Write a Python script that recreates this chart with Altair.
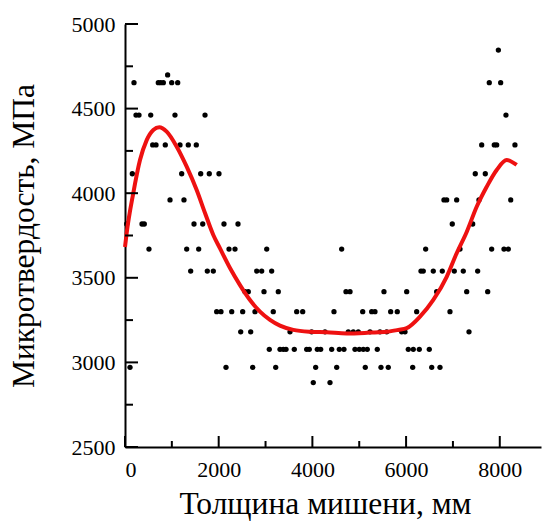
import altair as alt
import pandas as pd

# Hardness levels (MPa) at which the measured points sit, and the depths (mm) of the points on each level
hardness_levels = [4846, 4699, 4653, 4462, 4285, 4115, 3960, 3818, 3670, 3540,
                   3418, 3300, 3181, 3077, 2971, 2881]
depths_per_level = [
    [7970],
    [910],
    [192, 711, 762, 818, 997, 1125, 7776, 8019],
    [235, 299, 549, 1067, 1708, 8132],
    [591, 662, 860, 1174, 1351, 1522, 7614, 7883, 7934, 8324],
    [156, 1210, 1616, 1799, 2006, 7477, 7691],
    [961, 1259, 6809, 6867, 7080, 7556, 8233],
    [36, 363, 412, 1473, 1659, 2113, 2412, 6986, 7422],
    [512, 1317, 1573, 2220, 2348, 3025, 4625, 6418, 7151, 7827, 8090, 8182],
    [1402, 1757, 1885, 2811, 2918, 3131, 6318, 6367, 6581, 6773, 7029, 7221, 7528],
    [2561, 2632, 2967, 3272, 4717, 4803, 5528, 6013, 6653, 7294, 7742],
    [1957, 2049, 2278, 2512, 2775, 3165, 3665, 3793, 4461, 5074, 5266, 5336, 5671,
     5812, 6226, 6937],
    [2470, 2683, 3522, 3985, 4269, 4766, 4873, 4980, 5230, 5443, 5586, 5906, 5977, 7343],
    [3080, 3309, 3379, 3437, 3614, 3878, 3934, 4105, 4177, 4412, 4574, 4674, 4909,
     5001, 5087, 5172, 5385, 6047, 6154, 6282, 6495],
    [107, 2156, 2726, 3217, 4070, 4519, 5129, 5464, 5620, 6141, 6547, 6724],
    [4019, 4376],
]

# Fitted curve
curve_x = [0, 36, 177, 320, 463, 604, 732, 890, 1104, 1317, 1530, 1708, 1885, 2028,
           2241, 2455, 2668, 2882, 3095, 3308, 3592, 3949, 4305, 4732, 5230, 5586,
           5834, 6013, 6297, 6581, 6867, 7080, 7294, 7507, 7721, 7934, 8147, 8361]
curve_y = [3682, 3765, 4001, 4196, 4314, 4374, 4390, 4364, 4275, 4157, 4019, 3883,
           3753, 3674, 3558, 3457, 3369, 3300, 3251, 3217, 3192, 3181, 3178, 3171,
           3176, 3181, 3192, 3202, 3270, 3369, 3506, 3645, 3771, 3920, 4038, 4137,
           4196, 4167]

x_major_ticks = [0, 2000, 4000, 6000, 8000]
x_minor_ticks = [1000, 3000, 5000, 7000]
y_major_ticks = [2500, 3000, 3500, 4000, 4500, 5000]
y_minor_ticks = [2750, 3250, 3750, 4250, 4750]

W, H = 416, 423
SERIF = "'Liberation Serif', 'Times New Roman', 'DejaVu Serif', serif"

rows = []
for lvl, xs in zip(hardness_levels, depths_per_level):
    for xv in xs:
        rows.append({"x": xv, "y": lvl})
points_df = pd.DataFrame(rows)
curve_df = pd.DataFrame({"x": curve_x, "y": curve_y})

xscale = alt.Scale(domain=[0, 8880], nice=False, zero=False)
yscale = alt.Scale(domain=[2500, 5000], nice=False, zero=False)

points = alt.Chart(points_df).mark_circle(size=28, color="black", opacity=1).encode(
    x=alt.X("x:Q", scale=xscale,
            axis=alt.Axis(values=x_major_ticks, format="d", title="Толщина мишени, мм",
                          ticks=False, tickSize=0, labelPadding=12, grid=False,
                          titleX=200, titleY=66, titleBaseline="alphabetic")),
    y=alt.Y("y:Q", scale=yscale,
            axis=alt.Axis(values=y_major_ticks, format="d", title="Микротвердость, МПа",
                          ticks=False, tickSize=0, labelPadding=10, grid=False,
                          titleX=-101, titleY=H / 2, titleAngle=270,
                          titleAlign="center", titleBaseline="middle")),
)

curve = alt.Chart(curve_df).mark_line(color="#ee1111", strokeWidth=4,
                                      interpolate="monotone").encode(
    x=alt.X("x:Q", scale=xscale), y=alt.Y("y:Q", scale=yscale))

def yticks(vals, length):
    return alt.Chart(pd.DataFrame({"v": vals})).mark_rule(color="black", strokeWidth=2).encode(
        y=alt.Y("v:Q", scale=yscale), x=alt.value(0), x2=alt.value(length))

def xticks(vals, length):
    return alt.Chart(pd.DataFrame({"v": vals})).mark_rule(color="black", strokeWidth=2).encode(
        x=alt.X("v:Q", scale=xscale), y=alt.value(H), y2=alt.value(H - length))

chart = alt.layer(
    points, curve,
    yticks(y_major_ticks, 13), yticks(y_minor_ticks, 8),
    xticks(x_major_ticks, 11), xticks(x_minor_ticks, 6),
).properties(
    width=W, height=H,
    padding={"left": 125, "top": 24, "right": 1, "bottom": 75},
    autosize=alt.AutoSizeParams(type="none"),
).configure_view(stroke=None).configure_axis(
    labelFont=SERIF, titleFont=SERIF,
    labelFontSize=22, titleFontSize=31.5, labelColor="black", titleColor="black",
    titleFontWeight="normal", domainColor="black", domainWidth=2,
)

chart.save("out.html", embed_options={"renderer": "svg", "actions": False})
